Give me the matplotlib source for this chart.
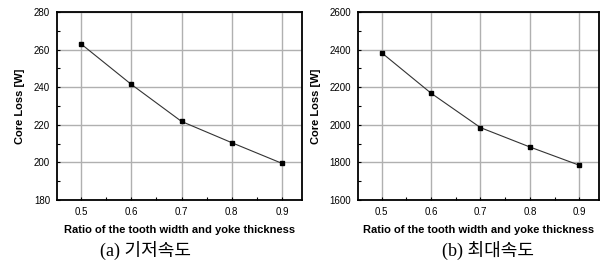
import matplotlib
matplotlib.use("Agg")
import matplotlib.pyplot as plt
from matplotlib.ticker import MultipleLocator

ratio = [0.5, 0.6, 0.7, 0.8, 0.9]
loss_base = [263, 241.5, 221.8, 210.5, 199.5]
loss_max = [2383, 2168, 1985, 1882, 1785]
captions = ["(a) 기저속도", "(b) 최대속도"]

plt.rcParams['font.family'] = ['Liberation Sans', 'DejaVu Sans']

fig = plt.figure(figsize=(6.05, 2.61), dpi=100)
W, H = 605.0, 261.0

# x0, x1 of axes box, data, ylim, major, minor, caption centre x
panels = [
    (57, 302, loss_base, (180, 280), 20, 10, 146),
    (358, 599, loss_max, (1600, 2600), 200, 100, 488),
]

for i, (x0, x1, vals, ylim, major, minor, cx) in enumerate(panels):
    ax = fig.add_axes([x0 / W, 1 - 200 / H, (x1 - x0) / W, (200 - 12) / H])
    ax.plot(ratio, vals, color='#333333', lw=0.8, marker='s', ms=3.5,
            mfc='black', mec='black')
    ax.set_xlim(0.452, 0.94)
    ax.set_ylim(*ylim)
    ax.set_xticks(ratio)
    ax.xaxis.set_minor_locator(MultipleLocator(0.05))
    ax.yaxis.set_major_locator(MultipleLocator(major))
    ax.yaxis.set_minor_locator(MultipleLocator(minor))
    ax.grid(True, which='major', color='#b0b0b0', lw=1.0)
    ax.set_axisbelow(True)
    ax.tick_params(which='both', direction='in', labelsize=7, length=2.5,
                   width=0.8, pad=5)
    ax.tick_params(which='minor', length=2)
    for s in ax.spines.values():
        s.set_linewidth(1.3)
    ax.set_ylabel("Core Loss [W]", fontsize=8, fontweight='bold', labelpad=6)
    ax.set_xlabel("Ratio of the tooth width and yoke thickness", fontsize=8,
                  fontweight='bold', labelpad=6)
    fig.text(cx / W, 1 - 250 / H, captions[i],
             fontsize=13, ha='center', va='center',
             family=['Liberation Serif', 'Noto Sans CJK KR'])

fig.savefig("out.png", dpi=100)
